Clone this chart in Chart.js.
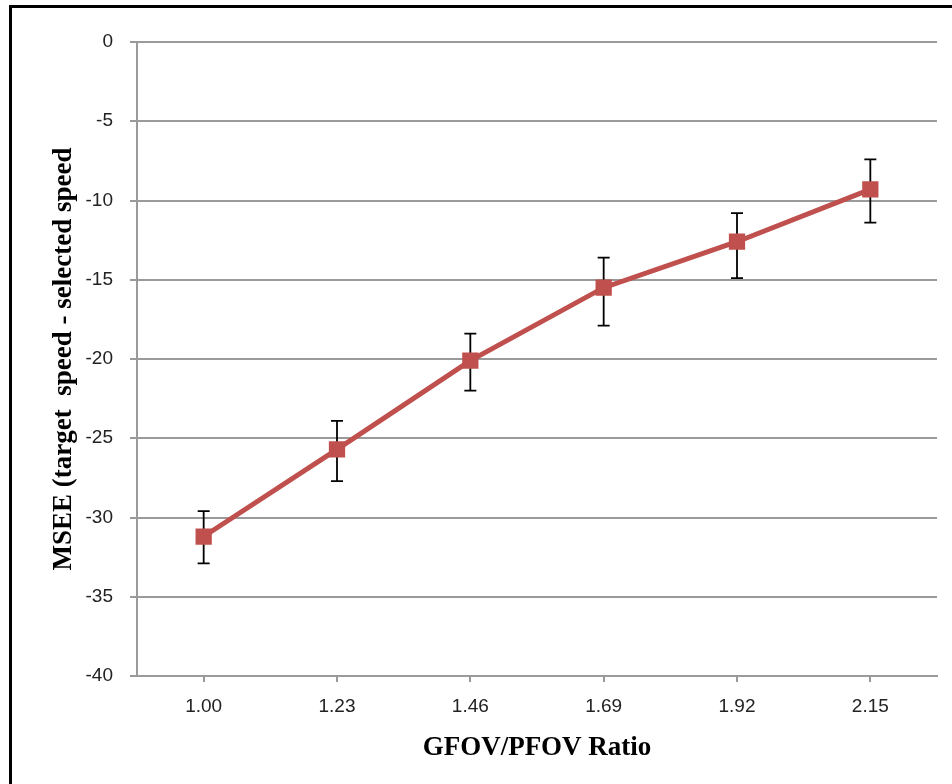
<!DOCTYPE html>
<html>
<head>
<meta charset="utf-8">
<script src="https://cdn.jsdelivr.net/npm/chart.js@4.4.0/dist/chart.umd.min.js"></script>
<style>
  html, body { margin: 0; padding: 0; background: #fff; }
  #wrap { position: relative; width: 952px; height: 784px; }
  #frame {
    position: absolute; left: 9px; top: 5px; right: 0; bottom: 0;
    border-top: 3px solid #000; border-left: 3px solid #000;
    pointer-events: none;
  }
</style>
</head>
<body>
<div id="wrap">
  <canvas id="msee"></canvas>
  <div id="frame"></div>
</div>
<script>
const ratios = ['1.00', '1.23', '1.46', '1.69', '1.92', '2.15'];
const msee = [-31.2, -25.7, -20.1, -15.5, -12.6, -9.3];
const errHigh = [-29.6, -23.9, -18.4, -13.6, -10.8, -7.4];
const errLow = [-32.9, -27.7, -22.0, -17.9, -14.9, -11.4];

const lineRed = '#C0504D';
const gridGrey = '#9a9a9a';

// whiskers drawn behind the markers
const errorBars = {
  id: 'errorBars',
  beforeDatasetsDraw(chart) {
    const {ctx, scales: {x, y}} = chart;
    ctx.save();
    ctx.strokeStyle = '#000';
    ctx.lineWidth = 1.8;
    ratios.forEach((r, i) => {
      const px = x.getPixelForValue(i);
      const top = y.getPixelForValue(errHigh[i]);
      const bot = y.getPixelForValue(errLow[i]);
      ctx.beginPath();
      ctx.moveTo(px, top); ctx.lineTo(px, bot);
      ctx.moveTo(px - 6, top); ctx.lineTo(px + 6, top);
      ctx.moveTo(px - 6, bot); ctx.lineTo(px + 6, bot);
      ctx.stroke();
    });
    ctx.restore();
  }
};

const ctx = document.getElementById('msee');

new Chart(ctx, {
  type: 'line',
  data: {
    labels: ratios,
    datasets: [{
      label: 'MSEE',
      data: msee,
      borderColor: lineRed,
      backgroundColor: lineRed,
      borderWidth: 5,
      pointStyle: 'rect',
      pointRadius: 11.5,
      pointBorderWidth: 0,
      pointBackgroundColor: lineRed,
      tension: 0
    }]
  },
  options: {
    responsive: true,
    maintainAspectRatio: false,
    animation: false,
    layout: {
      padding: {top: 42, right: 15, left: 0, bottom: 0}
    },
    plugins: {
      legend: {display: false},
      tooltip: {enabled: false}
    },
    scales: {
      x: {
        offset: true,
        grid: {
          offset: false,
          drawOnChartArea: false,
          color: gridGrey,
          lineWidth: 2,
          tickLength: 6
        },
        border: {color: gridGrey, width: 2},
        ticks: {
          color: '#222',
          padding: 13,
          font: {family: 'Liberation Sans', size: 19}
        },
        title: {
          display: true,
          text: 'GFOV/PFOV Ratio',
          color: '#000',
          padding: {top: 0, bottom: 20},
          font: {family: 'Liberation Serif', size: 27, weight: 'bold', lineHeight: 1.2}
        },
        afterFit(scale) { scale.height = 108; }
      },
      y: {
        min: -40,
        max: 0,
        grid: {
          color: gridGrey,
          lineWidth: 2,
          tickLength: 7
        },
        border: {color: gridGrey, width: 2},
        ticks: {
          stepSize: 5,
          color: '#222',
          padding: 17,
          font: {family: 'Liberation Sans', size: 19}
        },
        title: {
          display: true,
          text: 'MSEE (target  speed - selected speed',
          color: '#000',
          padding: {top: 48, bottom: 0},
          font: {family: 'Liberation Serif', size: 27, weight: 'bold', lineHeight: 1.2}
        },
        afterFit(scale) { scale.width = 137; }
      }
    }
  },
  plugins: [errorBars]
});
</script>
</body>
</html>
